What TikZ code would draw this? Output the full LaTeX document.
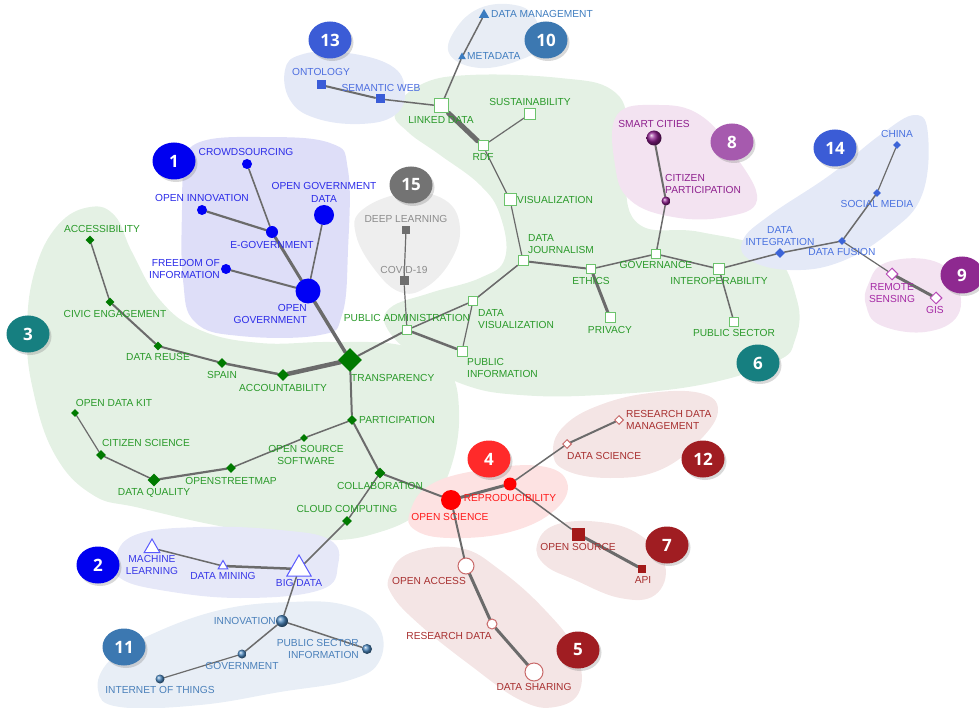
\documentclass[tikz,border=0pt]{standalone}
\usepackage{fontspec}
\setmainfont{Liberation Sans}
\newfontfamily\badgefont{Open Sans}
\usetikzlibrary{shapes.geometric,shadows}
\pgfdeclarelayer{blobs}
\pgfdeclarelayer{edges}
\pgfsetlayers{blobs,edges,main}
% node colours
\definecolor{edgegray}{HTML}{6B6B6B}
\definecolor{cB}{HTML}{0000F5}\definecolor{cBt}{HTML}{2B2BE8}
\definecolor{cG}{HTML}{007A00}\definecolor{cGt}{HTML}{2A9A2A}
\definecolor{cGl}{HTML}{6CC36C}
\definecolor{cGray}{HTML}{6E6E6E}\definecolor{cGrayt}{HTML}{8C8C8C}
\definecolor{cRoy}{HTML}{3A5CD8}\definecolor{cRoyt}{HTML}{4D6EE0}
\definecolor{cSteel}{HTML}{3B7CC0}\definecolor{cSteelt}{HTML}{3F7DBF}
\definecolor{cPur}{HTML}{8C1C8C}\definecolor{cPurt}{HTML}{8E208E}
\definecolor{cPurl}{HTML}{B848B8}\definecolor{cPurlt}{HTML}{A52AA5}
\definecolor{cRed}{HTML}{FF0000}\definecolor{cRedt}{HTML}{FF1A1A}
\definecolor{cDR}{HTML}{A31A1A}\definecolor{cDRt}{HTML}{A83030}
\definecolor{cDRl}{HTML}{C96A6A}
\definecolor{cTri}{HTML}{5A5AFF}\definecolor{cTrit}{HTML}{3838E8}
\definecolor{cBall}{HTML}{4A86BE}\definecolor{cBallt}{HTML}{4A80BA}
\definecolor{cDia}{HTML}{3C64D8}\definecolor{cDiat}{HTML}{4A72E0}
% blob colours
\definecolor{hB}{HTML}{DEDEF8}
\definecolor{hG}{HTML}{E4F1E4}
\definecolor{hGray}{HTML}{EEEEEE}
\definecolor{hRoy}{HTML}{E4E9F7}
\definecolor{hSteel}{HTML}{E8EDF5}
\definecolor{hPur}{HTML}{F3E3F1}
\definecolor{hRed}{HTML}{FDE2E2}
\definecolor{hDR}{HTML}{F4E5E5}
\definecolor{hTri}{HTML}{E6E8F8}
\definecolor{hBall}{HTML}{E8EEF6}
% badge colours
\definecolor{kB}{HTML}{0000F0}
\definecolor{kTeal}{HTML}{167F80}
\definecolor{kRed}{HTML}{FF2A2A}
\definecolor{kDR}{HTML}{A01D22}
\definecolor{kPurA}{HTML}{A65AAE}
\definecolor{kPurB}{HTML}{8E2990}
\definecolor{kSteel}{HTML}{3C78B1}
\definecolor{kRoy}{HTML}{3B5CD6}
\definecolor{kGray}{HTML}{737373}
\tikzset{
  lbl/.style={inner sep=0pt, font=\fontsize{10.2}{12.5}\selectfont, align=center},
  ndot/.style={circle, inner sep=0pt, minimum size=#1},
  ndia/.style={diamond, aspect=1, inner sep=0pt, minimum size=#1},
  nsq/.style={rectangle, inner sep=0pt, minimum size=#1},
  ntri/.style={regular polygon, regular polygon sides=3, inner sep=0pt, minimum size=#1},
  nball/.style={circle, inner sep=0pt, minimum size=#1, shading=ball},
  hsq/.style={nsq=#1, draw=cGl, fill=white, line width=1pt},
  ed/.style={draw=edgegray, line width=#1, line cap=round},
  ed/.default=1.5pt,
  badge/.style={ellipse, minimum width=43pt, minimum height=37pt, inner sep=0pt,
    text=white, font=\badgefont\bfseries\fontsize{17}{17}\selectfont,
    drop shadow={opacity=0.3, shadow xshift=2pt, shadow yshift=-2.5pt}},
  blob/.style={fill=#1, draw=none}
}
\begin{document}
\begin{tikzpicture}[x=1pt,y=-1pt]
\useasboundingbox (0,0) rectangle (979,708);

% ---------------- blobs ----------------
\begin{pgfonlayer}{blobs}
\fill[blob=hG] plot[smooth cycle, tension=0.7] coordinates {(90,207) (115,216) (132,252) (160,300) (200,330) (260,343) (330,342) (400,345) (445,365) (459,410) (450,470) (425,508) (380,532) (320,540) (230,528) (140,508) (93,495) (55,455) (33,390) (27,330) (35,270) (58,225)};
\fill[blob=hG] plot[smooth cycle, tension=0.7] coordinates {(395,112) (420,85) (470,75) (560,78) (612,90) (628,125) (625,180) (640,225) (700,232) (770,252) (797,300) (795,340) (775,362) (700,385) (600,395) (520,395) (465,385) (420,360) (388,330) (390,308) (430,293) (480,278) (505,258) (500,215) (480,185) (440,155) (408,132)};
\fill[blob=hB] plot[smooth cycle, tension=0.7] coordinates {(185,165) (200,142) (260,137) (330,143) (348,170) (348,250) (342,315) (320,335) (240,336) (195,322) (183,280) (182,210)};
\fill[blob=hGray] plot[smooth cycle, tension=0.7] coordinates {(362,210) (405,193) (445,200) (460,228) (450,262) (425,288) (400,292) (375,270) (356,235)};
\fill[blob=hRoy] plot[smooth cycle, tension=0.7] coordinates {(285,70) (300,55) (340,52) (390,65) (405,90) (395,115) (360,124) (315,118) (290,100)};
\fill[blob=hSteel] plot[smooth cycle, tension=0.7] coordinates {(450,55) (455,30) (480,8) (515,5) (535,18) (540,45) (520,60) (480,68)};
\fill[blob=hPur] plot[smooth cycle, tension=0.7] coordinates {(617,115) (657,105) (700,115) (735,155) (757,200) (725,217) (673,217) (630,200) (615,165)};
\fill[blob=hRoy] plot[smooth cycle, tension=0.7] coordinates {(743,240) (770,215) (830,175) (880,135) (915,115) (928,135) (922,195) (890,232) (840,262) (790,270) (750,260)};
\fill[blob=hPur] plot[smooth cycle, tension=0.7] coordinates {(868,285) (885,263) (930,260) (955,280) (958,315) (925,332) (880,325) (866,305)};
\fill[blob=hRed] plot[smooth cycle, tension=0.7] coordinates {(410,512) (430,485) (480,470) (540,466) (567,482) (555,510) (510,532) (450,538) (415,530)};
\fill[blob=hDR] plot[smooth cycle, tension=0.7] coordinates {(553,450) (565,425) (600,405) (650,393) (700,393) (718,410) (700,440) (660,470) (610,478) (565,470)};
\fill[blob=hDR] plot[smooth cycle, tension=0.7] coordinates {(537,545) (555,525) (600,522) (640,535) (665,565) (655,595) (620,598) (575,580) (545,565)};
\fill[blob=hDR] plot[smooth cycle, tension=0.7] coordinates {(390,575) (410,553) (460,548) (500,570) (545,610) (575,650) (580,690) (555,707) (520,700) (470,665) (420,625) (392,595)};
\fill[blob=hTri] plot[smooth cycle, tension=0.7] coordinates {(115,560) (135,535) (200,527) (280,530) (330,540) (338,565) (320,590) (240,598) (160,590) (120,578)};
\fill[blob=hBall] plot[smooth cycle, tension=0.7] coordinates {(98,690) (110,660) (150,635) (220,610) (290,602) (345,605) (378,625) (380,660) (350,680) (280,692) (200,705) (120,707)};
\end{pgfonlayer}

% ---------------- cluster 1 ----------------
\node[ndot=10pt,fill=cB] (crowd) at (247,164) {};
\node[ndot=10pt,fill=cB] (oinn) at (202,210) {};
\node[ndot=20pt,fill=cB] (ogd) at (324,215) {};
\node[ndot=12pt,fill=cB] (egov) at (272,232) {};
\node[ndot=10pt,fill=cB] (foi) at (226,269) {};
\node[ndot=25pt,fill=cB] (ogov) at (308,291) {};
\node[lbl,text=cBt] (crowd-l) at (246,152) {CROWDSOURCING};
\node[lbl,text=cBt] (oinn-l) at (202,198) {OPEN INNOVATION};
\node[lbl,text=cBt] (ogd-l) at (324,192.5) {OPEN GOVERNMENT\\DATA};
\node[lbl,text=cBt] (egov-l) at (272,245) {E-GOVERNMENT};
\node[lbl,text=cBt,align=right,anchor=east] (foi-l) at (220,269) {FREEDOM OF\\INFORMATION};
\node[lbl,text=cBt,align=right,anchor=north east] (ogov-l) at (307,304) {OPEN\\GOVERNMENT};

% ---------------- cluster 3 ----------------
\node[ndia=9pt,fill=cG] (acc) at (90,240) {};
\node[ndia=9pt,fill=cG] (civ) at (110,302) {};
\node[ndia=9pt,fill=cG] (reuse) at (158,346) {};
\node[ndia=10pt,fill=cG] (spain) at (222,363) {};
\node[ndia=12pt,fill=cG] (acct) at (283,375) {};
\node[ndia=24pt,fill=cG] (trans) at (350,360) {};
\node[ndia=10pt,fill=cG] (part) at (352,420) {};
\node[ndia=8pt,fill=cG] (odk) at (75,413) {};
\node[ndia=10pt,fill=cG] (cit) at (101,455) {};
\node[ndia=13pt,fill=cG] (dq) at (154,480) {};
\node[ndia=10pt,fill=cG] (osm) at (231,468) {};
\node[ndia=8pt,fill=cG] (oss) at (304,438) {};
\node[ndia=11pt,fill=cG] (collab) at (380,473) {};
\node[ndia=10pt,fill=cG] (cloud) at (347,521) {};
\node[lbl,text=cGt] (acc-l) at (102,229) {ACCESSIBILITY};
\node[lbl,text=cGt] (civ-l) at (115,314) {CIVIC ENGAGEMENT};
\node[lbl,text=cGt] (reuse-l) at (158,357) {DATA REUSE};
\node[lbl,text=cGt] (spain-l) at (222,375) {SPAIN};
\node[lbl,text=cGt] (acct-l) at (283,388) {ACCOUNTABILITY};
\node[lbl,text=cGt,anchor=west] (trans-l) at (351,378) {TRANSPARENCY};
\node[lbl,text=cGt,anchor=west] (part-l) at (359,420) {PARTICIPATION};
\node[lbl,text=cGt] (odk-l) at (114,403) {OPEN DATA KIT};
\node[lbl,text=cGt] (cit-l) at (146,443) {CITIZEN SCIENCE};
\node[lbl,text=cGt] (dq-l) at (154,493) {DATA QUALITY};
\node[lbl,text=cGt] (osm-l) at (231,481) {OPENSTREETMAP};
\node[lbl,text=cGt] (oss-l) at (306,455) {OPEN SOURCE\\SOFTWARE};
\node[lbl,text=cGt] (collab-l) at (380,486) {COLLABORATION};
\node[lbl,text=cGt] (cloud-l) at (347,509) {CLOUD COMPUTING};

% ---------------- cluster 6 ----------------
\node[hsq=9pt] (padm) at (407,330) {};
\node[hsq=9pt] (dvis) at (473,301) {};
\node[hsq=10pt] (pinfo) at (462,351) {};
\node[hsq=10pt] (djour) at (523,261) {};
\node[hsq=9pt] (ethics) at (591,269) {};
\node[hsq=10pt] (priv) at (610,318) {};
\node[hsq=9pt] (gov) at (656,254) {};
\node[hsq=11pt] (interop) at (719,269) {};
\node[hsq=9pt] (psec) at (734,322) {};
\node[hsq=12pt] (vis) at (510,200) {};
\node[hsq=10pt] (rdf) at (483,146) {};
\node[hsq=11pt] (sust) at (530,114) {};
\node[hsq=14pt] (ld) at (441,106) {};
\node[lbl,text=cGt] (padm-l) at (407,318) {PUBLIC ADMINISTRATION};
\node[lbl,text=cGt,align=left,anchor=west] (dvis-l) at (478,319) {DATA\\VISUALIZATION};
\node[lbl,text=cGt,align=left,anchor=west] (pinfo-l) at (467,368) {PUBLIC\\INFORMATION};
\node[lbl,text=cGt,align=left,anchor=west] (djour-l) at (528,244) {DATA\\JOURNALISM};
\node[lbl,text=cGt] (ethics-l) at (591,281) {ETHICS};
\node[lbl,text=cGt] (priv-l) at (610,330) {PRIVACY};
\node[lbl,text=cGt] (gov-l) at (656,265) {GOVERNANCE};
\node[lbl,text=cGt] (interop-l) at (719,281) {INTEROPERABILITY};
\node[lbl,text=cGt] (psec-l) at (734,333) {PUBLIC SECTOR};
\node[lbl,text=cGt,anchor=west] (vis-l) at (517,200) {VISUALIZATION};
\node[lbl,text=cGt] (rdf-l) at (483,157) {RDF};
\node[lbl,text=cGt] (sust-l) at (530,102) {SUSTAINABILITY};
\node[lbl,text=cGt] (ld-l) at (441,120) {LINKED DATA};

% ---------------- cluster 15 ----------------
\node[nsq=8pt,fill=cGray] (dl) at (406,230) {};
\node[nsq=9pt,fill=cGray] (covid) at (404,281) {};
\node[lbl,text=cGrayt] (dl-l) at (406,219) {DEEP LEARNING};
\node[lbl,text=cGrayt] (covid-l) at (404,270) {COVID-19};

% ---------------- cluster 13 ----------------
\node[nsq=9pt,fill=cRoy] (onto) at (321,85) {};
\node[nsq=9pt,fill=cRoy] (sweb) at (380,99) {};
\node[lbl,text=cRoyt] (onto-l) at (321,72) {ONTOLOGY};
\node[lbl,text=cRoyt] (sweb-l) at (381,88) {SEMANTIC WEB};

% ---------------- cluster 10 ----------------
\node[ntri=12pt,fill=cSteel] (dm) at (484,15) {};
\node[ntri=9pt,fill=cSteel] (meta) at (462,57) {};
\node[lbl,text=cSteelt,anchor=west] (dm-l) at (491,14) {DATA MANAGEMENT};
\node[lbl,text=cSteelt,anchor=west] (meta-l) at (467,56) {METADATA};

% ---------------- cluster 8 ----------------
\node[nball=15pt,ball color=cPur] (smart) at (654,138) {};
\node[nball=9pt,ball color=cPur] (cpart) at (666,201) {};
\node[lbl,text=cPurt] (smart-l) at (654,124) {SMART CITIES};
\node[lbl,text=cPurt,align=left,anchor=west] (cpart-l) at (665,184) {CITIZEN\\PARTICIPATION};

% ---------------- cluster 14 ----------------
\node[ndia=8pt,fill=cDia] (china) at (897,145) {};
\node[ndia=8pt,fill=cDia] (smedia) at (877,193) {};
\node[ndia=8pt,fill=cDia] (fusion) at (842,241) {};
\node[ndia=10pt,fill=cDia] (integ) at (780,253) {};
\node[lbl,text=cDiat] (china-l) at (897,134) {CHINA};
\node[lbl,text=cDiat] (smedia-l) at (877,204) {SOCIAL MEDIA};
\node[lbl,text=cDiat] (fusion-l) at (842,252) {DATA FUSION};
\node[lbl,text=cDiat] (integ-l) at (780,236) {DATA\\INTEGRATION};

% ---------------- cluster 9 ----------------
\node[ndia=12pt,draw=cPurl,fill=white,line width=1pt] (rsens) at (892,274) {};
\node[ndia=12pt,draw=cPurl,fill=white,line width=1pt] (gis) at (936,298) {};
\node[lbl,text=cPurlt] (rsens-l) at (892,293) {REMOTE\\SENSING};
\node[lbl,text=cPurlt] (gis-l) at (935,310) {GIS};

% ---------------- cluster 4 ----------------
\node[ndot=20pt,fill=cRed] (osci) at (451,500) {};
\node[ndot=13pt,fill=cRed] (repro) at (510,484) {};
\node[lbl,text=cRedt] (osci-l) at (450,517) {OPEN SCIENCE};
\node[lbl,text=cRedt] (repro-l) at (510,498) {REPRODUCIBILITY};

% ---------------- cluster 12 ----------------
\node[ndia=9pt,draw=cDRl,fill=white,line width=1pt] (dsci) at (567,444) {};
\node[ndia=9pt,draw=cDRl,fill=white,line width=1pt] (rdm) at (619,420) {};
\node[lbl,text=cDRt,anchor=west] (dsci-l) at (567,456) {DATA SCIENCE};
\node[lbl,text=cDRt,align=left,anchor=west] (rdm-l) at (626,420) {RESEARCH DATA\\MANAGEMENT};

% ---------------- cluster 7 ----------------
\node[nsq=13pt,fill=cDR] (osrc) at (578,534) {};
\node[nsq=8pt,fill=cDR] (api) at (642,569) {};
\node[lbl,text=cDRt] (osrc-l) at (578,547) {OPEN SOURCE};
\node[lbl,text=cDRt] (api-l) at (643,580) {API};

% ---------------- cluster 5 ----------------
\node[ndot=16pt,draw=cDRl,fill=white,line width=1pt] (oacc) at (466,566) {};
\node[ndot=10pt,draw=cDRl,fill=white,line width=1pt] (rdata) at (492,624) {};
\node[ndot=18pt,draw=cDRl,fill=white,line width=1pt] (dshare) at (534,672) {};
\node[lbl,text=cDRt] (oacc-l) at (429,581) {OPEN ACCESS};
\node[lbl,text=cDRt] (rdata-l) at (449,636) {RESEARCH DATA};
\node[lbl,text=cDRt] (dshare-l) at (534,687) {DATA SHARING};

% ---------------- cluster 2 ----------------
\node[ntri=18pt,draw=cTri,fill=white,line width=1pt] (ml) at (152,548) {};
\node[ntri=11pt,draw=cTri,fill=white,line width=1pt] (dmin) at (223,566) {};
\node[ntri=28pt,draw=cTri,fill=white,line width=1pt] (bigd) at (299,569) {};
\node[lbl,text=cTrit] (ml-l) at (152,565) {MACHINE\\LEARNING};
\node[lbl,text=cTrit] (dmin-l) at (223,576) {DATA MINING};
\node[lbl,text=cTrit] (bigd-l) at (299,583) {BIG DATA};

% ---------------- cluster 11 ----------------
\node[nball=12pt,ball color=cBall] (innov) at (282,621) {};
\node[nball=9pt,ball color=cBall] (govt) at (242,654) {};
\node[nball=9pt,ball color=cBall] (iot) at (160,679) {};
\node[nball=10pt,ball color=cBall] (psi) at (367,649) {};
\node[lbl,text=cBallt,anchor=east] (innov-l) at (276,621) {INNOVATION};
\node[lbl,text=cBallt] (govt-l) at (242,666) {GOVERNMENT};
\node[lbl,text=cBallt] (iot-l) at (160,690) {INTERNET OF THINGS};
\node[lbl,text=cBallt,align=right,anchor=east] (psi-l) at (359,649) {PUBLIC SECTOR\\INFORMATION};

% ---------------- edges ----------------
\begin{pgfonlayer}{edges}
\draw[ed=1.6pt] (crowd) -- (egov);
\draw[ed=2.2pt] (oinn) -- (egov);
\draw[ed=3pt] (egov) -- (ogov);
\draw[ed=1.6pt] (ogd) -- (ogov);
\draw[ed=2pt] (foi) -- (ogov);
\draw[ed=3.5pt] (ogov) -- (trans);
\draw[ed=1.5pt] (acc) -- (civ);
\draw[ed=2pt] (civ) -- (reuse);
\draw[ed=2pt] (reuse) -- (spain);
\draw[ed=2.5pt] (spain) -- (acct);
\draw[ed=4.5pt] (acct) -- (trans);
\draw[ed=2pt] (trans) -- (padm);
\draw[ed=2pt] (trans) -- (part);
\draw[ed=1.5pt] (part) -- (oss);
\draw[ed=1.5pt] (oss) -- (osm);
\draw[ed=2.2pt] (osm) -- (dq);
\draw[ed=1.5pt] (dq) -- (cit);
\draw[ed=1.2pt] (cit) -- (odk);
\draw[ed=2pt] (part) -- (collab);
\draw[ed=1.5pt] (collab) -- (cloud);
\draw[ed=1.5pt] (cloud) -- (bigd);
\draw[ed=2pt] (collab) -- (osci);
\draw[ed=1.2pt] (padm) -- (covid);
\draw[ed=1.2pt] (covid) -- (dl);
\draw[ed=1.5pt] (padm) -- (dvis);
\draw[ed=2.5pt] (padm) -- (pinfo);
\draw[ed=1.2pt] (dvis) -- (pinfo);
\draw[ed=1.5pt] (dvis) -- (djour);
\draw[ed=1.2pt] (djour) -- (vis);
\draw[ed=1.2pt] (vis) -- (rdf);
\draw[ed=5pt] (rdf) -- (ld);
\draw[ed=1.2pt] (rdf) -- (sust);
\draw[ed=1.5pt] (ld) -- (sweb);
\draw[ed=2pt] (sweb) -- (onto);
\draw[ed=1.5pt] (ld) -- (meta);
\draw[ed=1.5pt] (meta) -- (dm);
\draw[ed=2pt] (djour) -- (ethics);
\draw[ed=3pt] (ethics) -- (priv);
\draw[ed=1.5pt] (ethics) -- (gov);
\draw[ed=1.5pt] (gov) -- (interop);
\draw[ed=1.5pt] (gov) -- (cpart);
\draw[ed=2pt] (cpart) -- (smart);
\draw[ed=1.5pt] (interop) -- (psec);
\draw[ed=1.5pt] (interop) -- (integ);
\draw[ed=1.5pt] (integ) -- (fusion);
\draw[ed=1.5pt] (fusion) -- (smedia);
\draw[ed=1.2pt] (smedia) -- (china);
\draw[ed=1.2pt] (fusion) -- (rsens);
\draw[ed=3pt] (rsens) -- (gis);
\draw[ed=3pt] (osci) -- (repro);
\draw[ed=1.5pt] (repro) -- (dsci);
\draw[ed=2pt] (dsci) -- (rdm);
\draw[ed=1.5pt] (repro) -- (osrc);
\draw[ed=3pt] (osrc) -- (api);
\draw[ed=2pt] (osci) -- (oacc);
\draw[ed=3pt] (oacc) -- (rdata);
\draw[ed=3pt] (rdata) -- (dshare);
\draw[ed=1.5pt] (ml) -- (dmin);
\draw[ed=2.5pt] (dmin) -- (bigd);
\draw[ed=1.5pt] (bigd) -- (innov);
\draw[ed=1.5pt] (innov) -- (govt);
\draw[ed=1.2pt] (govt) -- (iot);
\draw[ed=1.5pt] (innov) -- (psi);
\end{pgfonlayer}

% ---------------- badges ----------------
\node[badge,fill=kB] (b1) at (174,161) {1};
\node[badge,fill=kB] (b2) at (98,565) {2};
\node[badge,fill=kTeal] (b3) at (28,334) {3};
\node[badge,fill=kRed] (b4) at (489,459) {4};
\node[badge,fill=kDR] (b5) at (578,650) {5};
\node[badge,fill=kTeal] (b6) at (758,363) {6};
\node[badge,fill=kDR] (b7) at (667,545) {7};
\node[badge,fill=kPurA] (b8) at (732,142) {8};
\node[badge,fill=kPurB] (b9) at (962,275) {9};
\node[badge,fill=kSteel] (b10) at (546,40) {10};
\node[badge,fill=kSteel] (b11) at (124,647) {11};
\node[badge,fill=kDR] (b12) at (703,459) {12};
\node[badge,fill=kRoy] (b13) at (330,40) {13};
\node[badge,fill=kRoy] (b14) at (835,148) {14};
\node[badge,fill=kGray] (b15) at (411,185) {15};
\end{tikzpicture}
\end{document}
